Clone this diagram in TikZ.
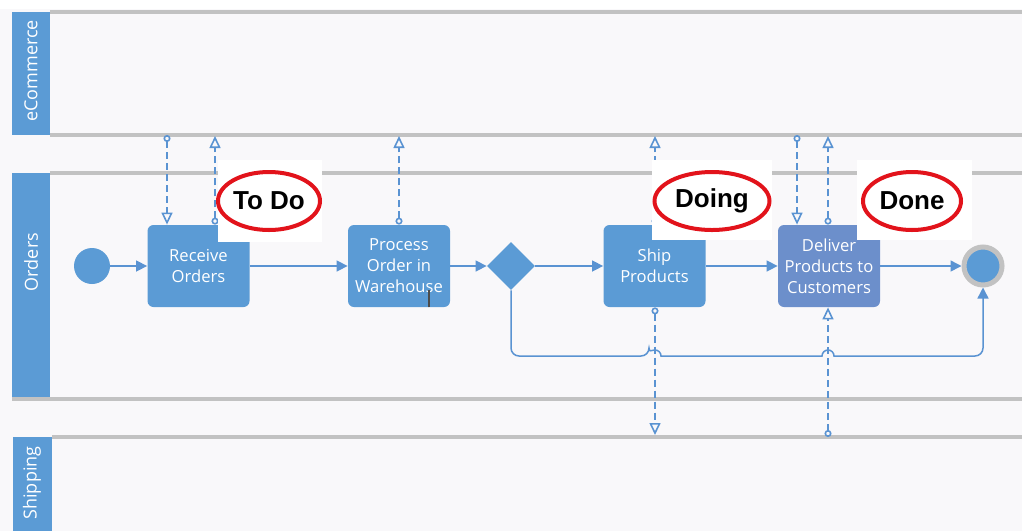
\documentclass[tikz,border=0pt]{standalone}
\usepackage{fontspec}
\usetikzlibrary{arrows.meta,shapes.geometric}
\newfontfamily\boxfont{Open Sans}
\newfontfamily\notefont{Liberation Sans}
\definecolor{lanebl}{HTML}{5B9BD5}
\definecolor{delbl}{HTML}{6C8FCB}
\definecolor{flowbl}{HTML}{5A93D2}
\definecolor{linegr}{HTML}{C2C2C2}
\definecolor{bggr}{HTML}{F9F8FA}
\definecolor{notered}{HTML}{E2131B}

\tikzset{
  task/.style={fill=lanebl, rounded corners=3pt, minimum width=51pt, minimum height=41pt,
    text=white, align=center, inner sep=1pt, font=\boxfont\fontsize{8.3}{10.5}\selectfont},
  lanetext/.style={text=white, rotate=90, font=\boxfont\fontsize{9}{11}\selectfont},
  laneline/.style={draw=linegr, line width=2pt},
  flow/.style={draw=flowbl, line width=0.75pt, -{Triangle[length=5.5pt,width=5.5pt]}},
  msg/.style={draw=flowbl, line width=0.8pt, dash pattern=on 3.5pt off 2pt,
    {Circle[open,length=3.5pt,width=3.5pt]}-{Triangle[open,length=6pt,width=5.5pt]}},
  note/.style={ellipse, draw=notered, line width=2pt, inner sep=0pt, minimum height=29pt,
    font=\notefont\bfseries\fontsize{13}{15}\selectfont}
}

\begin{document}
\begin{tikzpicture}[x=0.5pt,y=-0.5pt]
\useasboundingbox (0,0) rectangle (1022,531);
\fill[bggr] (0,0) rectangle (1022,531);
\fill[white] (0,0) rectangle (1022,9);

\fill[lanebl] (12,12) rectangle (50,135);
\node[lanetext] (ecom) at (31,71) {eCommerce};
\fill[lanebl] (12,173) rectangle (50,399);
\node[lanetext] (ord) at (31,262) {Orders};
\fill[lanebl] (13,437) rectangle (52,531);
\node[lanetext] (ship) at (32,483) {Shipping};

\draw[laneline] (50,12) -- (1022,12);
\draw[laneline] (50,135) -- (1022,135);
\draw[laneline] (50,173) -- (1022,173);
\draw[laneline] (12,399) -- (1022,399);
\draw[laneline] (52,437) -- (1022,437);

\node[circle, fill=lanebl, minimum size=18pt, inner sep=0pt] (start) at (92,266) {};
\node[task] (recv) at (198.5,266) {Receive\\Orders};
\node[task] (proc) at (399,266) {Process\\Order in\\Warehouse};
\node[diamond, fill=lanebl, minimum size=24pt, inner sep=0pt] (gw) at (511,266) {};
\node[task] (shipp) at (654.5,266) {Ship\\Products};
\node[task, fill=delbl] (dlv) at (829,266) {Deliver\\Products to\\Customers};
\node[circle, fill=lanebl, draw=linegr, line width=2.5pt, minimum size=19pt, inner sep=0pt] (end) at (983,266) {};
\draw[black!70, line width=0.7pt] ([xshift=15pt]proc.south) -- ++(0,-17);

\draw[flow] (start) -- (recv);
\draw[flow] (recv) -- (proc);
\draw[flow] (proc) -- (gw);
\draw[flow] (gw) -- (shipp);
\draw[flow] (shipp) -- (dlv);
\draw[flow] (dlv) -- (end);
\coordinate (lp) at (983,356);
\draw[flow] (gw.south) [rounded corners=4pt] |- (649,356) [sharp corners]
  arc[start angle=180, end angle=360, radius=6] -- (822,356)
  arc[start angle=180, end angle=360, radius=6] [rounded corners=4pt] -- (lp) -- (end.south);

\coordinate (eIn1) at (167,135);
\coordinate (eOut1) at (215,136);
\coordinate (eOut2) at (399,136);
\coordinate (eOut3) at (655,136);
\coordinate (eIn2) at (797,135);
\coordinate (eOut4) at (828,136);
\coordinate (sIn1) at (655,435);
\coordinate (sOut1) at (828,437);
\draw[msg] (eIn1) -- (eIn1 |- recv.north);
\draw[msg] (eOut1 |- recv.north) -- (eOut1);
\draw[msg] (proc.north) -- (eOut2);
\draw[msg] (eOut3 |- shipp.north) -- (eOut3);
\draw[msg] (sIn1 |- shipp.south) -- (sIn1);
\draw[msg] (eIn2) -- (eIn2 |- dlv.north);
\draw[msg] (eOut4 |- dlv.north) -- (eOut4);
\draw[msg] (sOut1) -- (sOut1 |- dlv.south);

\fill[white] (218,160) rectangle (322,242);
\node[note, minimum width=51pt] (todo) at (269,201) {To Do};
\fill[white] (652,160) rectangle (772,240);
\node[note, minimum width=57.5pt] (doing) at (712,201) {Doing};
\fill[white] (857,160) rectangle (972,240);
\node[note, minimum width=49pt] (done) at (912,201) {Done};
\end{tikzpicture}
\end{document}
